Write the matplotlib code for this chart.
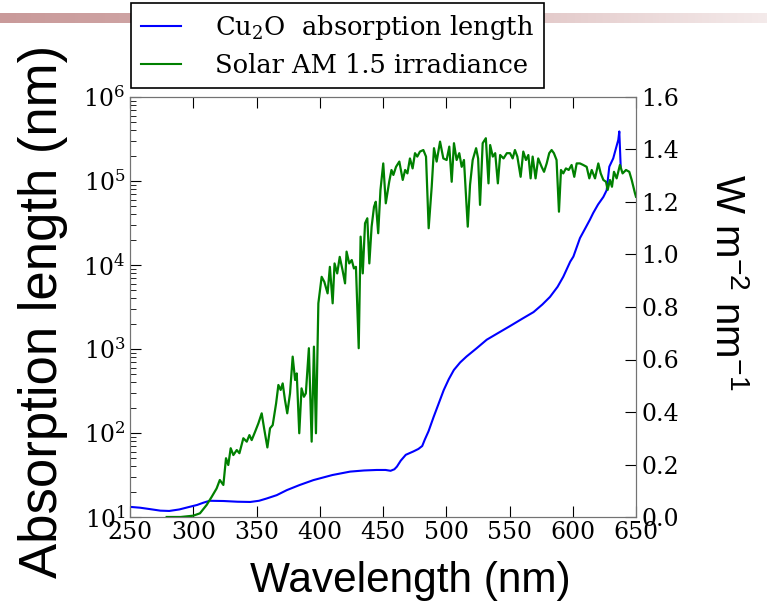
import numpy as np
import matplotlib.pyplot as plt
from matplotlib.lines import Line2D

plt.rcParams['font.family'] = 'DejaVu Serif'
plt.rcParams['mathtext.fontset'] = 'dejavuserif'

# Cu2O absorption length (nm) vs wavelength (nm)
abs_wl = [250, 258, 266, 274, 281, 289, 297, 303, 308, 313, 324, 335, 345,
          352, 358, 366, 374, 384, 395, 410, 424, 435, 445, 452, 456, 459,
          461, 464, 468, 474, 478, 481, 483, 486, 490, 494, 498, 502, 506,
          511, 516, 524, 532, 541, 550, 560, 569, 576, 582, 588, 592.5, 598,
          600.5, 605.7, 610, 613.6, 616.2, 620, 624.2, 626.8, 628.9, 632,
          634, 636, 636.8, 637.9]
abs_len = [13.2, 12.9, 12.4, 11.9, 11.8, 12.3, 13.2, 13.9, 14.8, 15.6, 15.5,
           15.2, 15.1, 15.6, 16.6, 18.2, 20.9, 24.0, 27.5, 31.6, 34.7, 35.8,
           36.3, 36.3, 35.5, 37.0, 39.8, 46.8, 55.0, 60.3, 64.6, 70.0, 83.2,
           105, 155, 224, 324, 437, 562, 692, 813, 1020, 1290, 1550, 1860,
           2290, 2750, 3390, 4170, 5500, 7240, 10960, 12590, 20900, 27500,
           34700, 41700, 52500, 64600, 77600, 148000, 186000, 240000, 309000,
           389000, 148000]

# Solar AM 1.5 irradiance (W m-2 nm-1)
sol_wl = [279, 290, 300, 305.3, 310.6, 314.6, 318.5, 321, 323.8, 325.9, 327.7,
          329.6, 331.7, 334.4, 336.5, 339.6, 342.3, 344.4, 346.2, 348.9, 351.5,
          354.1, 356, 358.6, 360.7, 362.8, 365.5, 367.3, 369.1, 370.7, 372.5,
          374.3, 376.5, 378.6, 380.5, 381.8, 383.8, 385.6, 387.5, 389, 391.4,
          393.6, 395.4, 397, 398.9, 401.5, 403.6, 406.2, 408, 410.2, 411.7,
          413.8, 415.8, 418, 420, 421.2, 423.3, 425.3, 427, 428.6, 430.8,
          432.3, 434, 435.8, 437.6, 439.2, 441, 442.9, 444.3, 446.2, 448,
          450.2, 452.2, 454.9, 456.7, 458.2, 460.3, 462.9, 465.6, 467.5,
          469.3, 471.3, 473.4, 475.3, 477.1, 479.2, 481.9, 484, 486.1, 488.5,
          490.3, 492.4, 495.1, 497.7, 500.3, 502.4, 504.3, 506.1, 508.2,
          510.3, 512.2, 514, 517, 518.8, 520.9, 523.6, 525.2, 526.7, 528.8,
          531.3, 533.4, 534.7, 536.8, 538.7, 540.8, 542.6, 545.3, 547.9,
          550.4, 552.5, 554.3, 556.2, 558.8, 560.9, 563, 564.9, 566.7, 568.3,
          570.6, 572.7, 575.4, 577.3, 579.4, 581.4, 583.3, 585.1, 587.2,
          589.1, 590.7, 592.5, 594.6, 596.8, 599.1, 601.2, 603.1, 605.7,
          608.3, 611, 613.1, 615, 617.6, 620.2, 622.1, 624.2, 626.3, 627.6,
          629.4, 631, 632.6, 634.7, 637.3, 639.4, 642.1, 644.7, 646.6, 649.2,
          650]
sol_irr = [0, 0, 0.005, 0.014, 0.046, 0.077, 0.109, 0.141, 0.122, 0.224, 0.198,
           0.262, 0.236, 0.255, 0.243, 0.30, 0.287, 0.312, 0.293, 0.325, 0.357,
           0.395, 0.338, 0.265, 0.338, 0.350, 0.433, 0.503, 0.484, 0.509, 0.446,
           0.395, 0.471, 0.611, 0.522, 0.547, 0.319, 0.49, 0.458, 0.471, 0.643,
           0.287, 0.649, 0.319, 0.814, 0.915, 0.896, 0.852, 0.953, 0.814, 0.966,
           0.928, 0.991, 0.941, 0.89, 1.011, 0.966, 0.979, 0.947, 0.953, 0.643,
           1.068, 0.928, 1.119, 1.138, 0.966, 1.106, 1.182, 1.201, 1.081, 1.246,
           1.347, 1.195, 1.277, 1.322, 1.303, 1.334, 1.354, 1.284, 1.322,
           1.309, 1.366, 1.328, 1.386, 1.373, 1.392, 1.398, 1.373, 1.10, 1.258,
           1.405, 1.354, 1.43, 1.366, 1.36, 1.411, 1.277, 1.424, 1.36,
           1.386, 1.334, 1.36, 1.106, 1.265, 1.36, 1.405, 1.366, 1.189, 1.424,
           1.443, 1.271, 1.417, 1.373, 1.386, 1.271, 1.379, 1.366, 1.386,
           1.386, 1.366, 1.398, 1.373, 1.296, 1.392, 1.36, 1.379, 1.29, 1.373,
           1.29, 1.366, 1.334, 1.315, 1.347, 1.386, 1.398, 1.386, 1.36,
           1.163, 1.322, 1.309, 1.328, 1.322, 1.341, 1.296, 1.347, 1.347,
           1.341, 1.334, 1.29, 1.322, 1.29, 1.347, 1.309, 1.284, 1.277, 1.246,
           1.284, 1.258, 1.315, 1.29, 1.341, 1.309, 1.322, 1.315, 1.284, 1.233,
           1.22]

x_ticks = [250, 300, 350, 400, 450, 500, 550, 600, 650]
r_ticks = [0.0, 0.2, 0.4, 0.6, 0.8, 1.0, 1.2, 1.4, 1.6]

fig = plt.figure(figsize=(7.67, 6.03), dpi=100)

# slide decoration band at the top
band = fig.add_axes([0, 1 - 23 / 603, 1, 10 / 603], zorder=0)
grad = np.linspace(0, 1, 256)[None, :]
cmap = plt.matplotlib.colors.LinearSegmentedColormap.from_list(
    'band', ['#c99a9a', '#d8b4b4', '#f4eaea'])
band.imshow(grad, aspect='auto', cmap=cmap)
band.axis('off')

ax = fig.add_axes([130 / 767, 1 - 517 / 603, 506 / 767, 420 / 603], zorder=2)
ax2 = ax.twinx()

ax.plot(abs_wl, abs_len, color='#0000ff', lw=1.5)
ax.set_yscale('log')
ax.set_ylim(10, 1e6)
ax.set_xlim(250, 650)
ax.set_xticks(x_ticks)

ax2.plot(sol_wl, sol_irr, color='#008000', lw=1.6)
ax2.set_ylim(0, 1.6)
ax2.set_yticks(r_ticks)
ax2.set_yticklabels(['%.1f' % t for t in r_ticks])

for a in (ax, ax2):
    for s in a.spines.values():
        s.set_color('0.45')
ax.tick_params(which='both', direction='in', top=True, labelsize=17)
ax.tick_params(which='major', length=8)
ax.tick_params(which='minor', length=4)
ax.tick_params(axis='x', pad=3)
ax2.tick_params(direction='in', length=8, labelsize=17, pad=4)

ax.set_xlabel('Wavelength (nm)', family='Liberation Sans', fontsize=30.5)
ax.xaxis.set_label_coords(0.553, -0.105)
ax.set_ylabel('Absorption length (nm)', family='Liberation Sans', fontsize=38)
ax.yaxis.set_label_coords(-0.122, 0.49)
ax2.set_ylabel('W m$^{\\mathregular{-2}}$ nm$^{\\mathregular{-1}}$',
               family='Liberation Sans', fontsize=29, rotation=270)
ax2.yaxis.set_label_coords(1.215, 0.56)

handles = [Line2D([], [], color='#0000ff', lw=1.5),
           Line2D([], [], color='#008000', lw=1.5)]
leg = fig.legend(handles, ['Cu$_2$O  absorption length',
                           'Solar AM 1.5 irradiance'],
                 loc='upper left', bbox_to_anchor=(131 / 767, 1 - 3 / 603),
                 borderaxespad=0, fontsize=18.5, frameon=True, fancybox=False,
                 framealpha=1, edgecolor='black', handlelength=1.55,
                 handletextpad=1.3, borderpad=0.4, labelspacing=0.4)
leg.get_frame().set_linewidth(1.2)
leg.set_zorder(5)

fig.savefig('out.png', dpi=100)
